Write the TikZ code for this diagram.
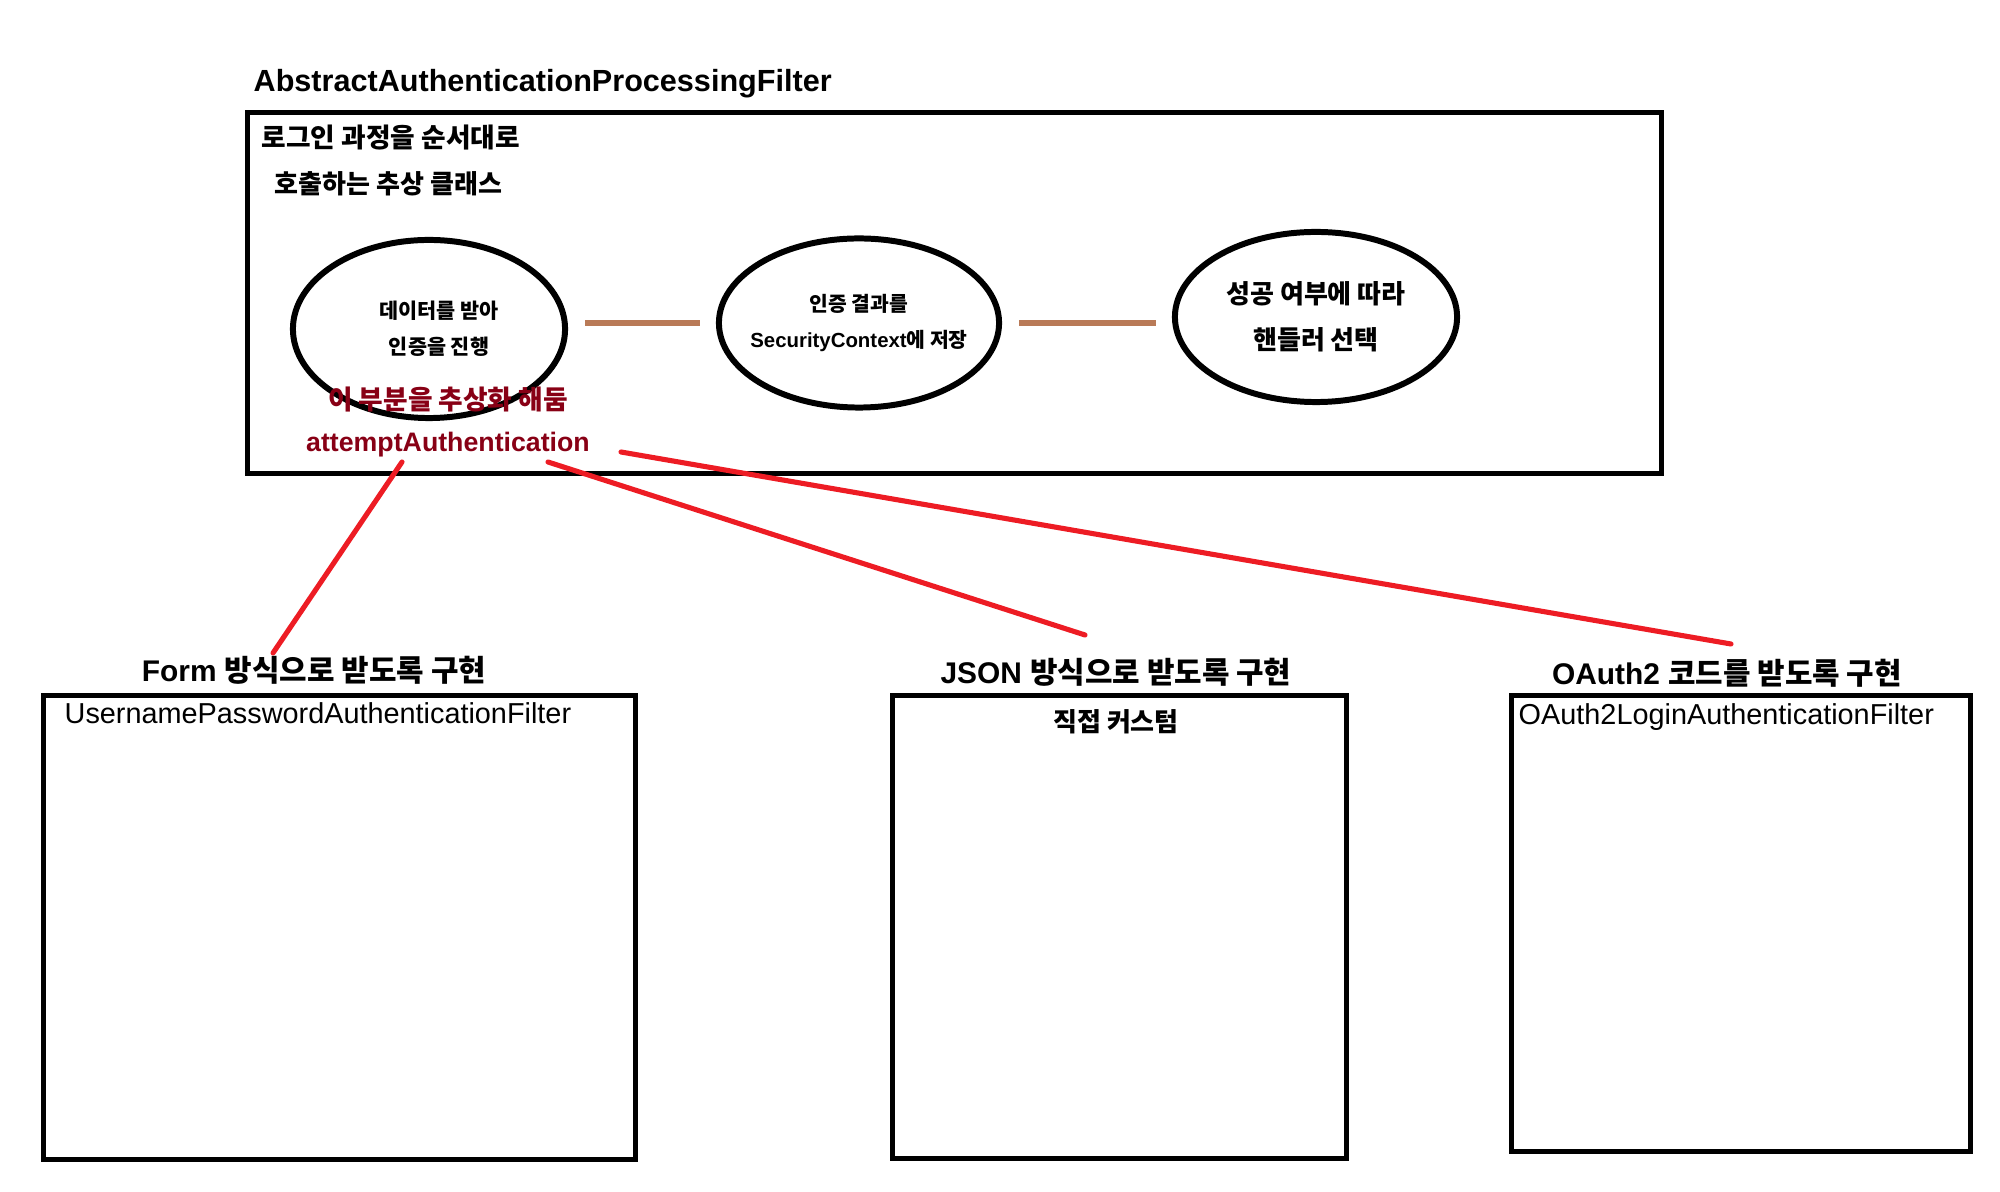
\documentclass[tikz,border=0pt]{standalone}
\usepackage{fontspec}
\setmainfont{Liberation Sans}
\newfontfamily\kr{Noto Sans CJK KR}
\usepackage{tikz}
\usetikzlibrary{shapes.geometric}
\definecolor{linkc}{HTML}{B97A57}
\definecolor{ptrc}{HTML}{ED1C24}
\definecolor{notec}{HTML}{880015}

\begin{document}
\begin{tikzpicture}[x=0.01cm, y=-0.01cm,
  ell/.style={ellipse, draw, line width=1.7pt, inner sep=0pt, align=center},
  box/.style={rectangle, draw, line width=1.45pt, anchor=north west, inner sep=0pt},
  lbl/.style={font=\fontsize{8.5}{10}\selectfont\bfseries, inner sep=0pt},
  txt/.style={font=\fontsize{8.2}{10}\selectfont, inner sep=0pt},
  link/.style={-, draw=linkc, line width=1.7pt, shorten >=0.16cm, shorten <=0.17cm},
  ptr/.style={-, draw=ptrc, line width=1.45pt, line cap=round}]
\useasboundingbox (0,0) rectangle (2000,1192);
% filter class and its steps
\node[lbl, anchor=west, font=\fontsize{8.7}{10}\selectfont\bfseries] (title) at (253,84)
     {AbstractAuthenticationProcessingFilter};
\node[box, minimum width=14.13cm, minimum height=3.61cm] (main) at (245,110) {};
\node[txt, anchor=west, font=\kr\bfseries\fontsize{7.6}{10}\selectfont] (desc1) at (261,138) {로그인 과정을 순서대로};
\node[txt, anchor=west, font=\kr\bfseries\fontsize{7.4}{10}\selectfont] (desc2) at (274,184) {호출하는 추상 클래스};
\node[ell, minimum width=2.72cm, minimum height=1.78cm, font=\kr\bfseries\fontsize{5.9}{10.2}\selectfont]
     (e1) at (429,329) {\hspace*{0.2cm}데이터를 받아\\\hspace*{0.2cm}인증을 진행};
\node[ell, inner xsep=-0.2cm, minimum width=2.80cm, minimum height=1.69cm, font=\bfseries\fontsize{5.8}{10}\selectfont]
     (e2) at (859,323) {{\kr 인증 결과를}\\SecurityContext{\kr 에 저장}};
\node[ell, minimum width=2.82cm, minimum height=1.70cm, font=\kr\bfseries\fontsize{7.4}{13.1}\selectfont]
     (e3) at (1316,317) {성공 여부에 따라\\핸들러 선택};
\draw[link] (e1.east |- e2.west) -- (e2.west);
\draw[link] (e2.east) -- (e2.east -| e3.west);
\node[font=\bfseries\fontsize{7.6}{11.7}\selectfont, text=notec, align=center, inner sep=0pt] (note) at (448,422)
     {{\kr 이 부분을 추상화 해둠}\\attemptAuthentication};
% implementations
\node[box, minimum width=5.92cm, minimum height=4.64cm] (formbox) at (41,693) {};
\node[box, minimum width=4.54cm, minimum height=4.63cm] (jsonbox) at (890,693) {};
\node[box, minimum width=4.59cm, minimum height=4.56cm] (oauthbox) at (1509,693) {};
\node[lbl] (formlbl) at (314,670) {Form {\kr 방식으로 받도록 구현}};
\node[lbl] (jsonlbl) at (1116,672) {JSON {\kr 방식으로 받도록 구현}};
\node[lbl] (oauthlbl) at (1727,673) {OAuth2 {\kr 코드를 받도록 구현}};
\node[txt, anchor=west] (formcls) at (64,713) {UsernamePasswordAuthenticationFilter};
\node[txt, font=\kr\bfseries\fontsize{7.4}{10}\selectfont] (jsoncls) at (1116,722) {직접 커스텀};
\node[txt, anchor=west] (oauthcls) at (1518,717) {OAuth2LoginAuthenticationFilter};
% red pointers
\coordinate (p1) at (402,462); \coordinate (q1) at (273,653);
\coordinate (p2) at (548,462); \coordinate (q2) at (1085,635);
\coordinate (p3) at (621,452); \coordinate (q3) at (1731,644);
\draw[ptr] (p1) -- (q1);
\draw[ptr] (p2) -- (q2);
\draw[ptr] (p3) -- (q3);
\end{tikzpicture}
\end{document}
